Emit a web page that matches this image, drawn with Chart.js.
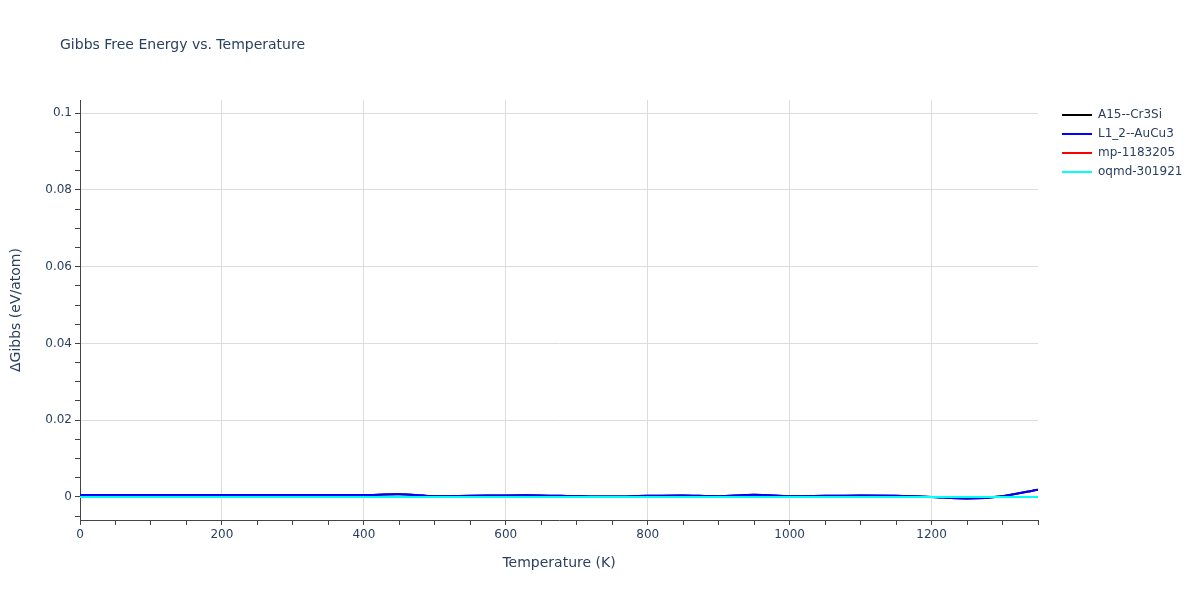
<!DOCTYPE html>
<html>
<head>
<meta charset="utf-8">
<script src="https://cdn.jsdelivr.net/npm/chart.js@4.4.0/dist/chart.umd.min.js"></script>
<style>
html,body{margin:0;padding:0;background:#fff;}
#wrap{width:1200px;height:600px;position:relative;}
</style>
</head>
<body>
<div id="wrap"><canvas id="c" width="1200" height="600"></canvas></div>
<script>
const temperatures = [0,50,100,150,200,250,300,350,400,450,500,550,600,650,700,750,800,850,900,950,1000,1050,1100,1150,1200,1250,1300,1350];
const seriesNames = ["A15--Cr3Si","L1_2--AuCu3","mp-1183205","oqmd-301921"];
const a15 = [0.0005,0.0005,0.0005,0.0005,0.0005,0.0005,0.0005,0.0005,0.0005,0.0007,0.0002,0.0003,0.0004,0.0004,0.0002,0.0001,0.0003,0.0004,0.0002,0.0006,0.0002,0.0003,0.0004,0.0003,0.0000,-0.0004,0.0002,0.0019];
const l12 = [0.0005,0.0005,0.0005,0.0005,0.0005,0.0005,0.0005,0.0005,0.0005,0.0007,0.0002,0.0003,0.0004,0.0004,0.0002,0.0001,0.0003,0.0004,0.0002,0.0006,0.0002,0.0003,0.0004,0.0003,0.0000,-0.0004,0.0002,0.0019];
const mp = [0,0,0,0,0,0,0,0,0,0,0,0,0,0,0,0,0,0,0,0,0,0,0,0,0,0,0,0];
const oqmd = [0,0,0,0,0,0,0,0,0,0,0,0,0,0,0,0,0,0,0,0,0,0,0,0,0,0,0,0];
const xTickLabels = [0,200,400,600,800,1000,1200];
const yTickLabels = [0,0.02,0.04,0.06,0.08,0.1];
const colors = ["#000000","#0000ff","#ff0000","#00ffff"];
const seriesValues = [a15,l12,mp,oqmd];

const FONT = '"DejaVu Sans", Verdana, sans-serif';
const TXT = '#2a3f5f';

function near(v, arr, eps){ return arr.some(a => Math.abs(a - v) < eps); }

const datasets = seriesValues.map((vals, i) => ({
  label: seriesNames[i],
  data: temperatures.map((t, j) => ({x: t, y: vals[j]})),
  borderColor: colors[i],
  backgroundColor: colors[i],
  borderWidth: 2,
  pointRadius: 0,
  tension: 0.3,
  fill: false,
  order: 4 - i
}));

const overlay = {
  id: 'overlay',
  afterDraw(chart){
    const ctx = chart.ctx;
    const ca = chart.chartArea;
    ctx.save();
    ctx.fillStyle = TXT;
    ctx.font = '14px ' + FONT;
    ctx.textBaseline = 'middle';
    ctx.textAlign = 'left';
    ctx.fillText('Gibbs Free Energy vs. Temperature', 60, 45);
    // axis titles
    ctx.textAlign = 'center';
    ctx.fillText('Temperature (K)', (ca.left + ca.right) / 2, 563);
    ctx.save();
    ctx.translate(16, 310);
    ctx.rotate(-Math.PI / 2);
    ctx.fillText('ΔGibbs (eV/atom)', 0, 0);
    ctx.restore();
    // legend
    ctx.textAlign = 'left';
    ctx.font = '12px ' + FONT;
    seriesNames.forEach((n, i) => {
      const y = 115 + i * 19;
      ctx.strokeStyle = colors[i];
      ctx.lineWidth = 2;
      ctx.beginPath();
      ctx.moveTo(1062, y);
      ctx.lineTo(1092, y);
      ctx.stroke();
      ctx.fillStyle = TXT;
      ctx.fillText(n, 1098, y);
    });
    ctx.restore();
  }
};

new Chart(document.getElementById('c'), {
  type: 'line',
  data: { datasets },
  options: {
    responsive: false,
    animation: false,
    devicePixelRatio: 1,
    layout: { padding: { top: 100, right: 162, left: 0, bottom: 0 } },
    plugins: { legend: { display: false }, title: { display: false }, tooltip: { enabled: false } },
    scales: {
      x: {
        type: 'linear',
        min: 0, max: 1350,
        afterFit(s){ s.height = 80; },
        afterBuildTicks(s){ s.ticks = s.ticks.filter(t => Math.abs(t.value/50 - Math.round(t.value/50)) < 1e-6); },
        ticks: {
          stepSize: 50,
          includeBounds: false,
          autoSkip: false,
          maxRotation: 0,
          color: TXT,
          font: { family: FONT, size: 12 },
          padding: 3,
          callback(v){ return near(v, xTickLabels, 1e-6) ? String(v) : ''; }
        },
        grid: {
          color(c){ return c.tick && near(c.tick.value, xTickLabels, 1e-6) ? '#dcdcdc' : 'rgba(0,0,0,0)'; },
          tickColor: '#444',
          tickLength: 5,
          drawTicks: true
        },
        border: { color: '#444', width: 1 },
        title: { display: false }
      },
      y: {
        type: 'linear',
        min: -0.006, max: 0.1034,
        afterFit(s){ s.width = 80; },
        afterBuildTicks(s){ s.ticks = s.ticks.filter(t => Math.abs(t.value/0.005 - Math.round(t.value/0.005)) < 1e-6); },
        ticks: {
          stepSize: 0.005,
          includeBounds: false,
          autoSkip: false,
          color: TXT,
          font: { family: FONT, size: 12 },
          padding: 3,
          callback(v){
            if (!near(v, yTickLabels, 1e-9)) return '';
            const r = Math.round(v * 100) / 100;
            return r === 0 ? '0' : String(r);
          }
        },
        grid: {
          color(c){ return c.tick && near(c.tick.value, yTickLabels, 1e-9) ? '#dcdcdc' : 'rgba(0,0,0,0)'; },
          tickColor: '#444',
          tickLength: 5,
          drawTicks: true
        },
        border: { color: '#444', width: 1 },
        title: { display: false }
      }
    }
  },
  plugins: [overlay]
});
</script>
</body>
</html>
